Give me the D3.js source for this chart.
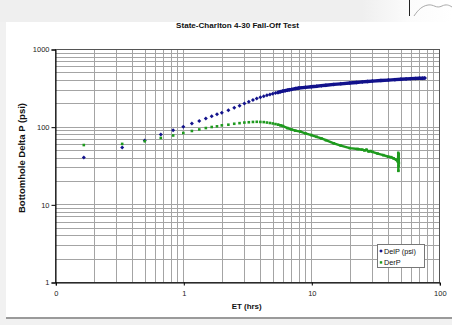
<!DOCTYPE html>
<html><head><meta charset="utf-8">
<script src="https://cdn.jsdelivr.net/npm/d3@7"></script>
<style>
html,body{margin:0;padding:0;background:#f1f1f1;overflow:hidden;}
svg{display:block;}
text{font-family:"Liberation Sans",Arial,sans-serif;}
</style></head>
<body>
<svg id="c" width="452" height="325"></svg>
<script>
// ---- data ----
const title = "State-Charlton 4-30 Fall-Off Test";
const xLabel = "ET (hrs)";
const yLabel = "Bottomhole Delta P (psi)";
const xTickVals = [0.1, 1, 10, 100];
const xTickLabels = ["0", "1", "10", "100"];
const yTickVals = [1, 10, 100, 1000];
const yTickLabels = ["1", "10", "100", "1000"];
const seriesNames = ["DelP (psi)", "DerP"];

const delpT = [0.167,0.333,0.5,0.667,0.833,1.0,1.167,1.333,1.5,1.667,1.833,2.0,2.25,2.5,2.75,3.0,3.25,3.5,3.75,4.0,
  4.25,4.5,4.75,5,5.25,5.5,5.75,6,6.25,6.5,6.75,7,7.5,8,9,10,11,12,13,15,17,20,22.5,25,27.5,30,35,40,45,50,55,60,65,70,74,77];
const delpV = [40,54,66.5,79,89.6,100,110,118,127,136,144,151,163,175,186,199,210,220,230,240,
  247,253,259,265,271,276,282,287,291,295,299,302,309,315,321,326,331,337,342,350,356,365,371,377,382,386,393,398,403,408,412,415,418,420,421,422];

const derpT = [0.167,0.333,0.5,0.667,0.833,1.0,1.167,1.333,1.5,1.667,1.833,2.0,2.25,2.5,2.75,3.0,3.25,3.5,3.75,4.0,
  4.25,4.5,4.75,5,5.25,5.5,5.75,6,6.5,7,7.5,8.2,9,10,11,12,13,15,17,20,23,25,26,27,28,29,30,33,36.5,40,42,44,46,47.5,47.8,47.9,48,48.1,48.2,48.3];
const derpV = [58,60,65,71.5,77,83,88,92,96,99,101,104,106,109,111,113,114,115,115.5,115,
  114.5,113,111.5,110,108,106,104,102,96,92,89,86.5,82,78,74,70.5,67,61,57,53,51.5,50.5,49.5,50.5,48,48.5,47.5,45,43,41,40.5,39,37.5,35.5,46,27,41,31,44,34];

// ---- layout ----
const svg = d3.select("#c");
const W = 452, H = 325;
const L = 55.3, R = 439.3, T = 49, B = 282;
const blue = "#12128c", green = "#1e9a1e";

// page background pieces
const defs = svg.append("defs");
const g1 = defs.append("linearGradient").attr("id","topg").attr("x1","0").attr("x2","1");
g1.append("stop").attr("offset","0.8").attr("stop-color","#efefef");
g1.append("stop").attr("offset","0.9").attr("stop-color","#fbfbfb");
g1.append("stop").attr("offset","1").attr("stop-color","#ffffff");
svg.append("rect").attr("x",0).attr("y",0).attr("width",W).attr("height",22).attr("fill","url(#topg)");
svg.append("line").attr("x1",409.5).attr("x2",409.5).attr("y1",0).attr("y2",16).attr("stroke","#222").attr("stroke-width",1);
svg.append("path").attr("d","M414,16 C418,10 422,6 428,5 C434,4 436,9 442,6 C446,4 449,5 452,7")
  .attr("fill","none").attr("stroke","#aaa").attr("stroke-width",1);
svg.append("rect").attr("x",6).attr("y",22).attr("width",W-6).attr("height",295).attr("fill","#fff");
svg.append("rect").attr("x",6).attr("y",317).attr("width",W-6).attr("height",2).attr("fill","#9a9a9a");

const x = d3.scaleLog().domain([0.1,100]).range([L,R]);
const y = d3.scaleLog().domain([1,1000]).range([B,T]);

// gridlines
const gridVals = (lo, hi) => { const a=[]; for(let d=lo; d<hi; d*=10){ for(let k=1;k<=9;k++) a.push(+(d*k).toPrecision(3)); } a.push(hi); return a; };
const gg = svg.append("g");
gg.selectAll("line.v").data(gridVals(0.1,100)).join("line")
  .attr("x1",d=>Math.round(x(d))+0.5).attr("x2",d=>Math.round(x(d))+0.5).attr("y1",T).attr("y2",B)
  .attr("stroke","#a4a4a4").attr("stroke-width",1);
gg.selectAll("line.h").data(gridVals(1,1000)).join("line")
  .attr("y1",d=>Math.round(y(d))+0.5).attr("y2",d=>Math.round(y(d))+0.5).attr("x1",L).attr("x2",R)
  .attr("stroke","#a4a4a4").attr("stroke-width",1);

// plot border
svg.append("rect").attr("x",Math.round(L)+0.5).attr("y",T+0.5).attr("width",Math.round(R)-Math.round(L)).attr("height",B-T)
  .attr("fill","none").attr("stroke","#555").attr("stroke-width",1);

// axes
const xAxis = d3.axisBottom(x).tickValues(xTickVals).tickFormat((d,i)=>xTickLabels[i]).tickSize(3).tickPadding(5);
const yAxis = d3.axisLeft(y).tickValues(yTickVals).tickFormat((d,i)=>yTickLabels[i]).tickSize(4).tickPadding(2);
const gx = svg.append("g").attr("transform",`translate(0.5,${B+0.5})`).call(xAxis);
const gy = svg.append("g").attr("transform",`translate(${Math.round(L)+0.5},0.5)`).call(yAxis);
[gx,gy].forEach(g=>{
  g.select(".domain").attr("stroke","#000");
  g.selectAll(".tick line").attr("stroke","#000");
  g.selectAll(".tick text").attr("fill","#222").style("font-size","7.5px").style("font-family","'Liberation Sans',Arial,sans-serif");
});

// fitted text helper
function fitText(sel, targetW){
  const n = sel.node().getComputedTextLength();
  const fs = parseFloat(sel.style("font-size"));
  sel.style("font-size", (fs*targetW/n).toFixed(2)+"px");
}
const tt = svg.append("text").attr("x",237.5).attr("y",28).attr("text-anchor","middle")
  .style("font-weight","bold").style("font-size","8px").attr("fill","#111").text(title);
fitText(tt,123);
const xl = svg.append("text").attr("x",246.7).attr("y",309).attr("text-anchor","middle")
  .style("font-weight","bold").style("font-size","8px").attr("fill","#111").text(xLabel);
fitText(xl,30);
const yl = svg.append("text").attr("transform","translate(25,158) rotate(-90)").attr("text-anchor","middle")
  .style("font-weight","bold").style("font-size","8px").attr("fill","#111").text(yLabel);
fitText(yl,110);

// series
const delp = delpT.map((t,i)=>({t, v:delpV[i]}));
const derp = derpT.map((t,i)=>({t, v:derpV[i]}));
const line = d3.line().x(d=>x(d.t)).y(d=>y(d.v));

svg.append("path").datum(delp.filter(d=>d.t>=5.5)).attr("d",line)
  .attr("fill","none").attr("stroke",blue).attr("stroke-width",3.4).attr("stroke-linecap","round").attr("stroke-linejoin","round");
svg.append("path").datum(derp.filter(d=>d.t>=5.5)).attr("d",line)
  .attr("fill","none").attr("stroke",green).attr("stroke-width",2.4).attr("stroke-linecap","round").attr("stroke-linejoin","round");

const diamond = (cx,cy,r)=>`M${cx},${cy-r}L${cx+r},${cy}L${cx},${cy+r}L${cx-r},${cy}Z`;
svg.append("g").selectAll("path").data(delp).join("path")
  .attr("d",d=>diamond(x(d.t),y(d.v),2)).attr("fill",blue);
svg.append("g").selectAll("rect").data(derp).join("rect")
  .attr("x",d=>x(d.t)-1.3).attr("y",d=>y(d.v)-1.3).attr("width",2.6).attr("height",2.6).attr("fill",green);

// legend
const lg = svg.append("g");
lg.append("rect").attr("x",377.5).attr("y",244.5).attr("width",47).attr("height",23)
  .attr("fill","#fff").attr("stroke","#777").attr("stroke-width",1);
lg.append("path").attr("d",diamond(381,251,1.8)).attr("fill",blue);
lg.append("rect").attr("x",379.8).attr("y",261.2).attr("width",2.4).attr("height",2.4).attr("fill",green);
lg.append("text").attr("x",384).attr("y",253.5).style("font-size","7.3px").attr("fill","#111").text(seriesNames[0]);
lg.append("text").attr("x",384).attr("y",265).style("font-size","7.3px").attr("fill","#111").text(seriesNames[1]);
</script>
</body></html>
